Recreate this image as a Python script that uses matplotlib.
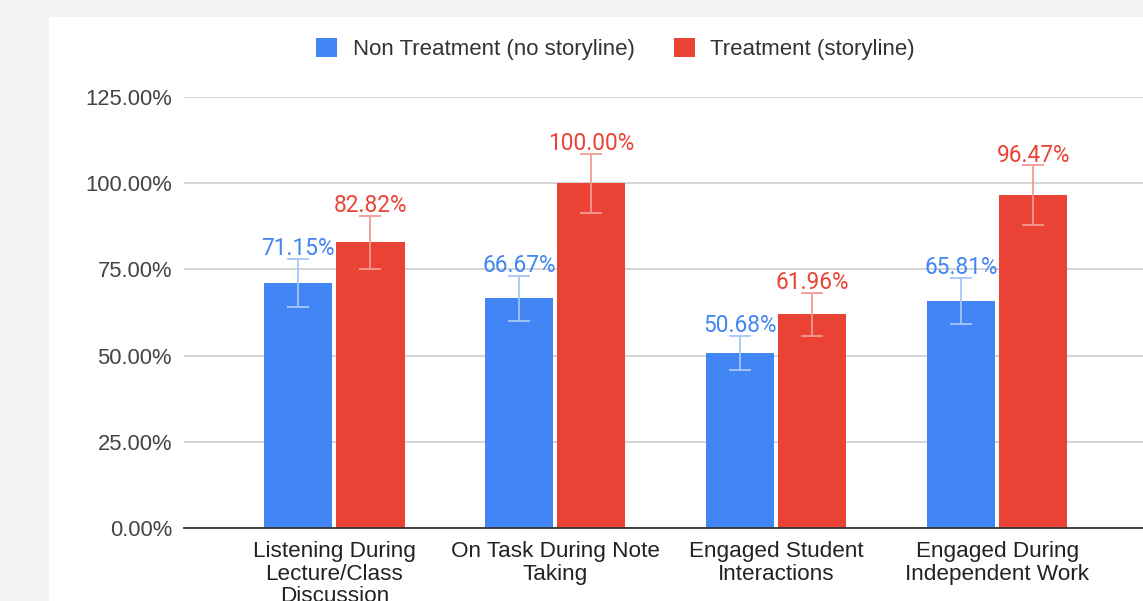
import numpy as np
import matplotlib
matplotlib.use("Agg")
import matplotlib.pyplot as plt
from matplotlib.patches import Rectangle
from matplotlib.ticker import FuncFormatter

# data
categories = ["Listening During\nLecture/Class\nDiscussion",
              "On Task During Note\nTaking",
              "Engaged Student\nInteractions",
              "Engaged During\nIndependent Work"]
non_treatment = [71.15, 66.67, 50.68, 65.81]
treatment = [82.82, 100.00, 61.96, 96.47]
non_treatment_err = [7.0, 6.5, 5.0, 6.7]
treatment_err = [7.7, 8.5, 6.2, 8.7]
series_names = ["Non Treatment (no storyline)", "Treatment (storyline)"]

BLUE = "#4285F4"
RED = "#EA4335"
BLUE_ERR = "#a8c7fa"
RED_ERR = "#f29b94"

fig = plt.figure(figsize=(11.43, 6.01), dpi=100)
fig.patch.set_facecolor("#f1f3f4")
# white chart card
fig.patches.append(Rectangle((49 / 1143, 0), 1 - 49 / 1143, 1 - 17 / 601,
                             transform=fig.transFigure, facecolor="white",
                             edgecolor="none", zorder=-5))

ax = fig.add_axes([184 / 1143, 1 - 528 / 601, 1 - 184 / 1143, (528 - 97) / 601])
ax.set_facecolor("none")
ax.set_zorder(2)

x = np.arange(len(categories))
w = 0.308
off = 0.164

b1 = ax.bar(x - off, non_treatment, w, color=BLUE, label=series_names[0], zorder=3)
b2 = ax.bar(x + off, treatment, w, color=RED, label=series_names[1], zorder=3)
ax.errorbar(x - off, non_treatment, yerr=non_treatment_err, fmt="none",
            ecolor=BLUE_ERR, elinewidth=1.3, capsize=8, capthick=1.3, zorder=4)
ax.errorbar(x + off, treatment, yerr=treatment_err, fmt="none",
            ecolor=RED_ERR, elinewidth=1.3, capsize=8, capthick=1.3, zorder=4)

for xs, vals, errs, col in [(x - off, non_treatment, non_treatment_err, BLUE),
                            (x + off, treatment, treatment_err, RED)]:
    for xi, v, e in zip(xs, vals, errs):
        ax.annotate(f"{v:.2f}%", (xi, v + e), xytext=(0, -1), textcoords="offset points",
                    ha="center", va="bottom", color=col, fontsize=16.3,
                    family="Roboto", zorder=5)

ax.set_xlim(-0.68, 3.66)
ax.set_ylim(0, 125)
ax.set_yticks([0, 25, 50, 75, 100, 125])
ax.yaxis.set_major_formatter(FuncFormatter(lambda v, p: f"{v:.2f}%"))
ax.set_xticks(x)
ax.set_xticklabels(categories, fontsize=16.2, family="Liberation Sans",
                   color="#222222", linespacing=1.1)
ax.tick_params(axis="y", length=0, pad=8.6, labelsize=15.8, labelcolor="#444444")
ax.tick_params(axis="x", length=0, pad=9.5)
for lab in ax.get_yticklabels():
    lab.set_family("Liberation Sans")

ax.grid(axis="y", color="#cccccc", linewidth=1.2, zorder=0)
for s in ["top", "right", "left"]:
    ax.spines[s].set_visible(False)
ax.spines["bottom"].set_color("#333333")
ax.spines["bottom"].set_linewidth(1.3)
ax.spines["bottom"].set_zorder(4)

leg = fig.legend(handles=[b1, b2], labels=series_names, loc="center",
                 bbox_to_anchor=(615.5 / 1143, 1 - 49 / 601), ncol=2, frameon=False,
                 prop={"family": "Liberation Sans", "size": 16.0},
                 handlelength=0.95, handleheight=0.95, handletextpad=0.7,
                 columnspacing=1.75)
for t in leg.get_texts():
    t.set_color("#333333")

fig.savefig("out.png", dpi=100, facecolor=fig.get_facecolor())
